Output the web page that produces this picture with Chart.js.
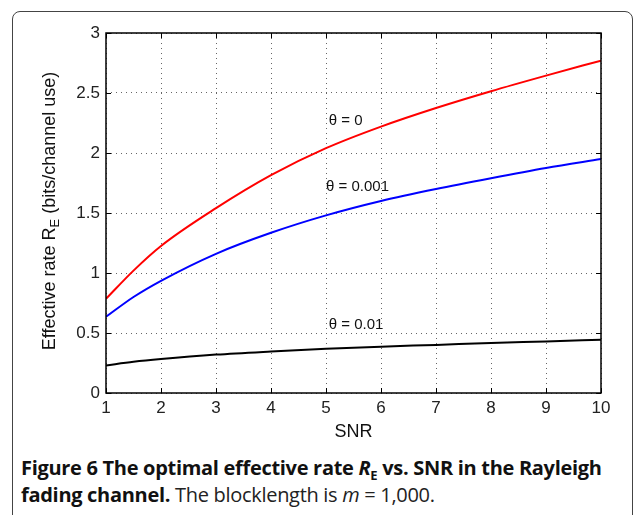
<!DOCTYPE html>
<html>
<head>
<meta charset="utf-8">
<script src="https://cdn.jsdelivr.net/npm/chart.js@4"></script>
<style>
  body { margin: 0; background: #fff; }
  #frame {
    position: absolute; left: 12px; top: 11px; width: 619px; height: 520px;
    border: 1px solid #444; border-radius: 8px;
  }
  #wrap { position: absolute; left: 0; top: 0; width: 634px; height: 450px; }
  #caption {
    position: absolute; left: 21px; top: 454px; width: 610px; white-space: nowrap;
    font-family: "Open Sans", sans-serif; font-size: 20px; line-height: 27px;
    color: #222; letter-spacing: -0.3px;
  }
  #caption b { font-weight: 700; color: #111; }
  #caption sub { font-size: 13px; line-height: 0; }
</style>
</head>
<body>
<div id="frame"></div>
<div id="wrap"><canvas id="box" width="634" height="450"></canvas></div>
<div id="caption"><b>Figure 6 The optimal effective rate <i>R</i><sub>E</sub> vs. SNR in the Rayleigh<br>fading channel.</b> The blocklength is <i>m</i> = 1,000.</div>
<script>
var snr = [1, 1.5, 2, 3, 4, 5, 6, 7, 8, 9, 10];
var rateTheta0 = [0.785, 1.02, 1.225, 1.54, 1.815, 2.04, 2.22, 2.375, 2.515, 2.645, 2.77];
var rateTheta001 = [0.635, 0.80, 0.935, 1.16, 1.335, 1.48, 1.60, 1.70, 1.79, 1.875, 1.95];
var rateTheta01 = [0.23, 0.26, 0.283, 0.32, 0.346, 0.368, 0.386, 0.401, 0.417, 0.43, 0.444];
var labels = ["\u03b8 = 0", "\u03b8 = 0.001", "\u03b8 = 0.01"];
var labelPos = [[5.05, 2.27], [5.0, 1.72], [5.05, 0.57]];

function pts(ys) {
    return snr.map(function (x, i) { return { x: x, y: ys[i] }; });
}

var decor = {
    id: "decor",
    afterDraw: function (chart) {
        var ctx = chart.ctx, a = chart.chartArea;
        var xs = chart.scales.x, ys = chart.scales.y;
        ctx.save();
        // box + inward ticks
        ctx.strokeStyle = "#000";
        ctx.lineWidth = 1.5;
        ctx.strokeRect(a.left, a.top, a.right - a.left, a.bottom - a.top);
        ctx.lineWidth = 1;
        ctx.beginPath();
        xs.ticks.forEach(function (t) {
            var px = Math.round(xs.getPixelForValue(t.value)) + 0.5;
            ctx.moveTo(px, a.bottom); ctx.lineTo(px, a.bottom - 5);
            ctx.moveTo(px, a.top); ctx.lineTo(px, a.top + 5);
        });
        ys.ticks.forEach(function (t) {
            var py = Math.round(ys.getPixelForValue(t.value)) + 0.5;
            ctx.moveTo(a.left, py); ctx.lineTo(a.left + 5, py);
            ctx.moveTo(a.right, py); ctx.lineTo(a.right - 5, py);
        });
        ctx.stroke();
        // curve labels
        ctx.fillStyle = "#111";
        ctx.font = "15px 'Liberation Sans', sans-serif";
        ctx.textBaseline = "middle";
        labels.forEach(function (s, i) {
            ctx.fillText(s, xs.getPixelForValue(labelPos[i][0]), ys.getPixelForValue(labelPos[i][1]));
        });
        // x title
        ctx.font = "18px 'Liberation Sans', sans-serif";
        ctx.textAlign = "center";
        ctx.textBaseline = "alphabetic";
        ctx.fillText("SNR", (a.left + a.right) / 2, 437);
        // y title with subscript
        ctx.translate(55, 211);
        ctx.rotate(-Math.PI / 2);
        var p1 = "Effective rate R", sub = "E", p2 = " (bits/channel use)";
        ctx.font = "18px 'Liberation Sans', sans-serif";
        var w1 = ctx.measureText(p1).width, w3 = ctx.measureText(p2).width;
        ctx.font = "13px 'Liberation Sans', sans-serif";
        var w2 = ctx.measureText(sub).width;
        var x0 = -(w1 + w2 + w3) / 2;
        ctx.textAlign = "left";
        ctx.font = "18px 'Liberation Sans', sans-serif";
        ctx.fillText(p1, x0, 0);
        ctx.font = "13px 'Liberation Sans', sans-serif";
        ctx.fillText(sub, x0 + w1, 4);
        ctx.font = "18px 'Liberation Sans', sans-serif";
        ctx.fillText(p2, x0 + w1 + w2, 0);
        ctx.restore();
    }
};

var mychart = new Chart("box", {
    type: "line",
    data: {
        datasets: [
            { data: pts(rateTheta0), borderColor: "rgb(255,0,0)" },
            { data: pts(rateTheta001), borderColor: "rgb(0,0,255)" },
            { data: pts(rateTheta01), borderColor: "rgb(0,0,0)" }
        ]
    },
    options: {
        responsive: false,
        animation: false,
        layout: { padding: { left: 0, top: 33, right: 33, bottom: 0 } },
        datasets: {
            line: { borderWidth: 2, pointRadius: 0, fill: false, cubicInterpolationMode: "monotone" }
        },
        plugins: { legend: { display: false }, tooltip: { enabled: false } },
        scales: {
            x: {
                type: "linear", min: 1, max: 10,
                ticks: { stepSize: 1, color: "#222", padding: 5, font: { family: "Liberation Sans", size: 17 } },
                grid: { color: "#666", drawTicks: false },
                border: { display: false, dash: [1, 4] },
                afterFit: function (s) { s.height = 57; }
            },
            y: {
                min: 0, max: 3,
                ticks: {
                    stepSize: 0.5, color: "#222", padding: 6,
                    font: { family: "Liberation Sans", size: 17 },
                    callback: function (v) { return String(v); }
                },
                grid: { color: "#666", drawTicks: false },
                border: { display: false, dash: [1, 4] },
                afterFit: function (s) { s.width = 106; }
            }
        }
    },
    plugins: [decor]
});
</script>
</body>
</html>
